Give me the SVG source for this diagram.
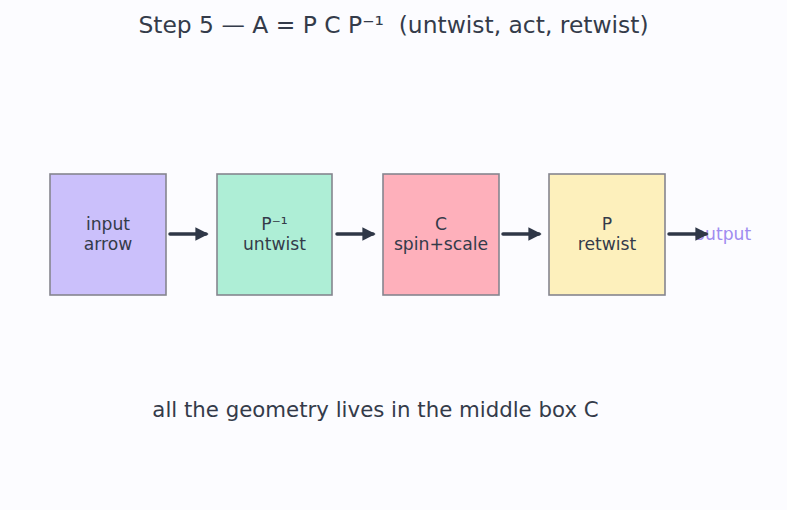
<svg xmlns="http://www.w3.org/2000/svg" width="787" height="510" viewBox="0 0 787 510">
<defs>
<style>
.t{font-family:"DejaVu Sans",sans-serif;fill:#343b4a}
.box{stroke:#85858f;stroke-width:1.6}
.lbl{font-size:17.2px;text-anchor:middle}
.c{stroke:#2f3747;stroke-width:3.5;fill:none;stroke-linecap:round}
</style>
<marker id="ah" viewBox="0 0 10 10" refX="8" refY="5" markerWidth="3.8" markerHeight="3.8" orient="auto" markerUnits="strokeWidth">
<path d="M0,0 L10,5 L0,10 z" fill="#2f3747"/>
</marker>
</defs>
<rect width="787" height="510" fill="#fcfcff"/>
<text class="t" x="393.5" y="33" font-size="23.4" text-anchor="middle" xml:space="preserve" style="white-space:pre">Step 5 — A = P C P⁻¹  (untwist, act, retwist)</text>
<g id="n1"><rect class="box" x="50" y="174" width="116" height="121" fill="#cbc0fb"/><text class="t lbl" x="108" y="229.5">input</text><text class="t lbl" x="108" y="250">arrow</text></g>
<g id="n2"><rect class="box" x="217" y="174" width="115" height="121" fill="#aeeed6"/><text class="t lbl" x="274.5" y="229.5">P⁻¹</text><text class="t lbl" x="274.5" y="250">untwist</text></g>
<g id="n3"><rect class="box" x="383" y="174" width="116" height="121" fill="#feb0bb"/><text class="t lbl" x="441" y="229.5">C</text><text class="t lbl" x="441" y="250">spin+scale</text></g>
<g id="n4"><rect class="box" x="549" y="174" width="116" height="121" fill="#fdf0bc"/><text class="t lbl" x="607" y="229.5">P</text><text class="t lbl" x="607" y="250">retwist</text></g>
<text x="694.5" y="240" font-family="DejaVu Sans,sans-serif" font-size="17.2" fill="#a08cf0">output</text>
<g id="connectors">
<line class="c" x1="170" y1="234" x2="206" y2="234" marker-end="url(#ah)"/>
<line class="c" x1="337" y1="234" x2="373" y2="234" marker-end="url(#ah)"/>
<line class="c" x1="503" y1="234" x2="539" y2="234" marker-end="url(#ah)"/>
<line class="c" x1="669" y1="234" x2="706" y2="234" marker-end="url(#ah)"/>
</g>
<text class="t" x="375.5" y="416.5" font-size="21.3" text-anchor="middle">all the geometry lives in the middle box C</text>
</svg>
